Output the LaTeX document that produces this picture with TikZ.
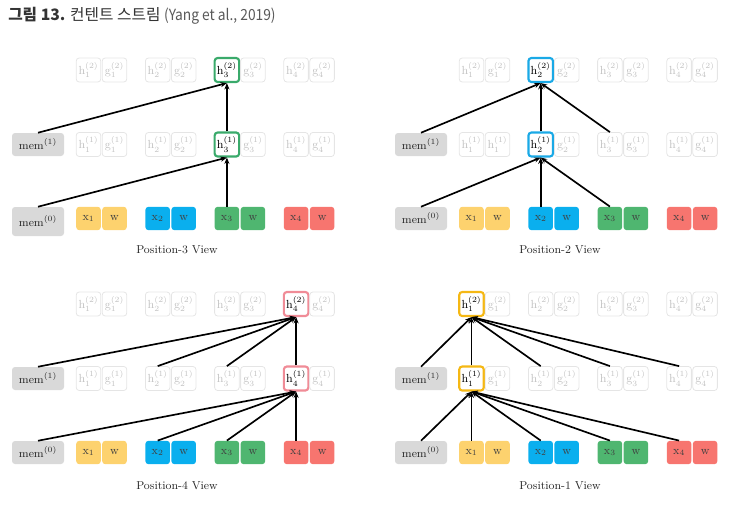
\documentclass[tikz,border=0pt]{standalone}
\usepackage{fontspec}
\usepackage{graphicx}
\usetikzlibrary{arrows.meta}
\newfontfamily\kr{Noto Sans CJK KR}
\definecolor{cyel}{HTML}{FDD26E}
\definecolor{cblu}{HTML}{0AAFEE}
\definecolor{cgrn}{HTML}{4FB670}
\definecolor{cred}{HTML}{F7756F}
\definecolor{cmem}{HTML}{D9D9D9}
\definecolor{hgrn}{HTML}{3AAA6B}
\definecolor{hblu}{HTML}{1AA9E6}
\definecolor{hpnk}{HTML}{F08C97}
\definecolor{hgld}{HTML}{F5B814}
\definecolor{titlec}{HTML}{333333}
\tikzset{
  boxbase/.style={rectangle, rounded corners=2.25pt, inner sep=0pt, minimum width=18.4pt, minimum height=18pt, font=\fontsize{8.8}{9}\selectfont},
  faded/.style={boxbase, draw=black!10, line width=0.6pt, text=black!24},
  hlbox/.style={boxbase, draw=#1, line width=1.6pt, fill=white, text=black},
  inbox/.style={boxbase, fill=#1, text=black!75, minimum height=17.5pt},
  membox/.style={rectangle, rounded corners=2.25pt, inner sep=0pt, minimum width=39pt, minimum height=17.25pt, fill=cmem, text=black!85, font=\fontsize{8.6}{9}\selectfont},
  arr/.style={-{Stealth[length=4.8pt,width=3.8pt]}, line width=1.25pt, black},
  capt/.style={inner sep=0pt, text=black!85, font=\fontsize{8.6}{10}\selectfont}
}
\newcommand\drawpanel[7]{%
\begin{scope}[shift={(#2,#3)}]
 \node[membox] (#1-m1) at (38,144.5) {mem$^{(1)}$};
 \node[membox,#7] (#1-m0) at (38,218.5) {mem$^{(0)}$};
 \foreach \i/\c in {1/cyel,2/cblu,3/cgrn,4/cred}{%
   \pgfmathsetmacro\cx{88.5+69.2*(\i-1)}%
   \pgfmathsetmacro\dx{\cx+26}%
   \ifnum\i=1 \def\gl{#6}\else\def\gl{g}\fi
   \ifnum\i=#4\relax
     \node[hlbox=#5] (#1-h2-\i) at (\cx,70) {$\mathrm{h}_{\i}^{(2)}$};
     \node[hlbox=#5] (#1-h1-\i) at (\cx,144.5) {$\mathrm{h}_{\i}^{(1)}$};
   \else
     \node[faded] (#1-h2-\i) at (\cx,70) {$\mathrm{h}_{\i}^{(2)}$};
     \node[faded] (#1-h1-\i) at (\cx,144.5) {$\mathrm{h}_{\i}^{(1)}$};
   \fi
   \node[faded] (#1-g2-\i) at (\dx,70) {$\mathrm{g}_{\i}^{(2)}$};
   \node[faded] (#1-g1-\i) at (\dx,144.5) {$\mathrm{\gl}_{\i}^{(1)}$};
   \node[inbox=\c] (#1-x-\i) at (\cx,218.5) {$\mathrm{x}_{\i}$};
   \node[inbox=\c] (#1-w-\i) at (\dx,218.5) {$\mathrm{w}$};
 }
\end{scope}}
\begin{document}
\begin{tikzpicture}[x=0.75pt,y=-0.75pt]
\useasboundingbox (0,0) rectangle (741,507);
\node[anchor=west, inner sep=0pt, text=titlec] (title) at (8,16) {\kr\fontsize{11.8}{13}\selectfont\textbf{그림 13.} 컨텐트 스트림 {\fontsize{11.5}{12}\selectfont\color{black!65}\scalebox{0.9}[1]{(Yang et al., 2019)}}};

\drawpanel{A}{0}{0}{3}{hgrn}{g}{minimum height=21.75pt,yshift=-2.25pt}
\drawpanel{B}{383}{0}{2}{hblu}{h}{}
\drawpanel{C}{0}{234}{4}{hpnk}{g}{}
\drawpanel{D}{383}{234}{1}{hgld}{g}{}

\node[capt] (capA) at (177,250) {Position-3 View};
\node[capt] (capB) at (560,250) {Position-2 View};
\node[capt] (capC) at (177,486) {Position-4 View};
\node[capt] (capD) at (560,486) {Position-1 View};

% Panel A
\draw[arr] (A-m0.north) -- (A-h1-3.south);
\draw[arr] (A-x-3.north) -- (A-h1-3.south);
\draw[arr] (A-m1.north) -- (A-h2-3.south);
\draw[arr] (A-h1-3.north) -- (A-h2-3.south);
% Panel B
\foreach \s in {m0,x-2,x-3} \draw[arr] (B-\s.north) -- (B-h1-2.south);
\foreach \s in {m1,h1-2,h1-3} \draw[arr] (B-\s.north) -- (B-h2-2.south);
% Panel C
\foreach \s in {m0,x-2,x-3,x-4} \draw[arr] (C-\s.north) -- (C-h1-4.south);
\foreach \s in {m1,h1-2,h1-3,h1-4} \draw[arr] (C-\s.north) -- (C-h2-4.south);
% Panel D
\foreach \s in {m0,x-1,x-2,x-3,x-4} \draw[arr] (D-\s.north) -- (D-h1-1.south);
\foreach \s in {m1,h1-1,h1-2,h1-3,h1-4} \draw[arr] (D-\s.north) -- (D-h2-1.south);
\end{tikzpicture}
\end{document}
